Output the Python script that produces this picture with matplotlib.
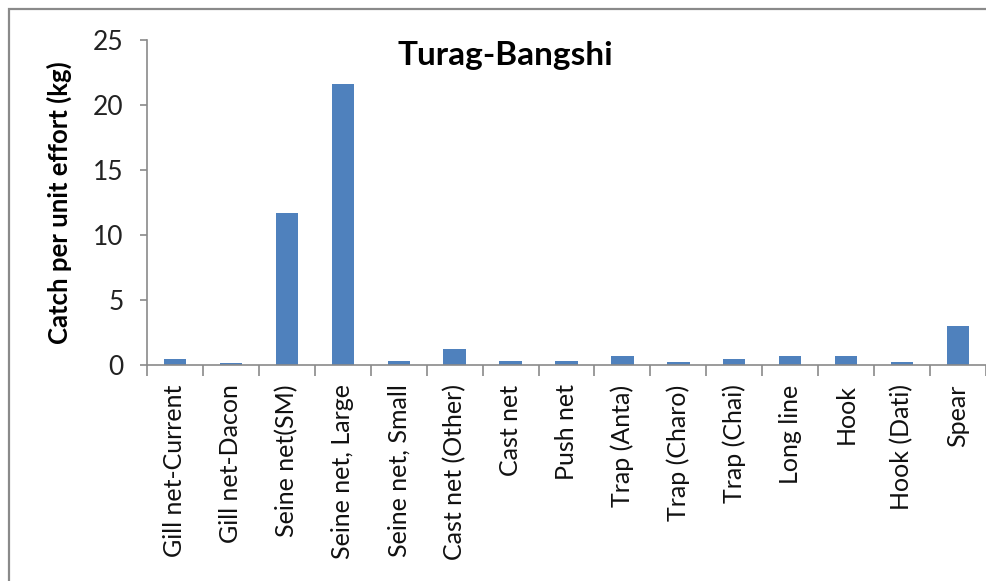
import matplotlib
matplotlib.use("Agg")
import matplotlib.pyplot as plt
from matplotlib.patches import Rectangle
import numpy as np

categories = ["Gill net-Current", "Gill net-Dacon", "Seine net(SM)", "Seine net, Large",
              "Seine net, Small", "Cast net (Other)", "Cast net", "Push net", "Trap (Anta)",
              "Trap (Charo)", "Trap (Chai)", "Long line", "Hook", "Hook (Dati)", "Spear"]
values = [0.5, 0.15, 11.7, 21.6, 0.3, 1.2, 0.3, 0.3, 0.7, 0.2, 0.5, 0.7, 0.7, 0.2, 3.0]
yticks = [0, 5, 10, 15, 20, 25]

plt.rcParams['font.family'] = ['Lato', 'DejaVu Sans']

W, H = 987, 581
fig = plt.figure(figsize=(W / 100, H / 100), dpi=100)
fig.patch.set_facecolor("white")

# outer chart border (right/bottom cut off in the reference)
fig.patches.append(Rectangle((9 / W, -0.1), 1.2, (H - 9) / H + 0.1, transform=fig.transFigure,
                             fill=False, edgecolor="#8a8a8a", linewidth=1.6))

ax = fig.add_axes([147 / W, 1 - 365 / H, (986 - 147) / W, (365 - 40) / H])
x = np.arange(len(categories))
ax.bar(x, values, width=0.4, color="#4F81BD", edgecolor="#4F81BD", linewidth=0)

ax.set_xlim(-0.5, len(categories) - 0.5)
ax.set_ylim(0, 25)
ax.set_yticks(yticks)
ax.set_yticklabels([str(t) for t in yticks], fontsize=19, color="#222222")

ax.set_xticks(x)
ax.set_xticklabels(categories, rotation=90, fontsize=18, color="#111111")
ax.tick_params(axis="x", which="major", length=0, pad=14)
ax.set_xticks(np.arange(-0.5, len(categories) + 0.5, 1), minor=True)
ax.tick_params(axis="x", which="minor", length=8, color="#8a8a8a", width=1.2)
ax.tick_params(axis="y", length=5, color="#8a8a8a", width=1.2, pad=12)

for s in ["top", "right"]:
    ax.spines[s].set_visible(False)
for s in ["left", "bottom"]:
    ax.spines[s].set_color("#8a8a8a")
    ax.spines[s].set_linewidth(1.2)

ax.set_ylabel("Catch per unit effort (kg)", fontsize=18.5, fontweight="bold", labelpad=15)
fig.text(505 / W, 1 - 55 / H, "Turag-Bangshi", fontsize=24, fontweight="bold",
         ha="center", va="center")

fig.savefig("out.png", dpi=100)
